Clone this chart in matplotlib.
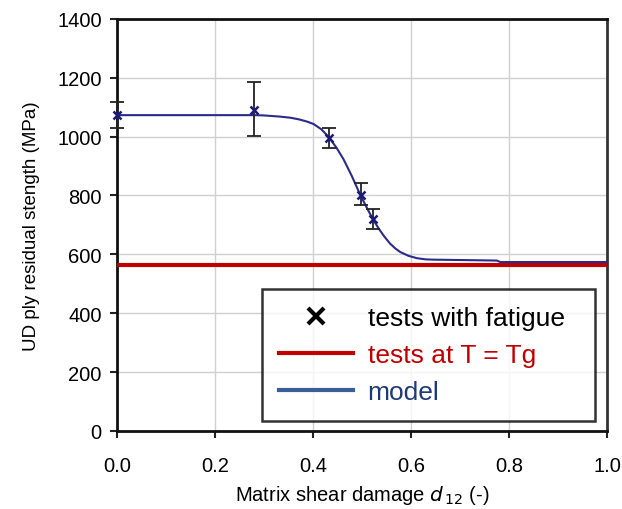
import matplotlib
matplotlib.use("Agg")
import matplotlib.pyplot as plt
from matplotlib.lines import Line2D

# test points (fatigue)
d_test = [0.0, 0.28, 0.433, 0.498, 0.522]
s_test = [1075, 1090, 995, 802, 720]
err_lo = [45, 87, 33, 34, 34]
err_hi = [42, 96, 35, 41, 34]

# tests at T = Tg
s_tg = 565

# model curve
d_model = [0.0, 0.28, 0.30, 0.333, 0.355, 0.373, 0.388, 0.401, 0.417, 0.433, 0.448,
           0.462, 0.479, 0.497, 0.510, 0.522, 0.534, 0.544, 0.557, 0.568, 0.578,
           0.595, 0.612, 0.630, 0.646, 0.775, 0.782, 1.0]
s_model = [1073, 1073, 1072, 1068, 1064, 1058, 1051, 1043, 1025, 997, 962,
           924, 867, 800, 758, 720, 688, 664, 637, 620, 608,
           595, 587, 583, 582, 579, 574, 574]

plt.rcParams['font.family'] = ['Liberation Sans', 'DejaVu Sans']

fig = plt.figure(figsize=(6.22, 5.10), dpi=100)
ax = fig.add_axes([0.188, 0.153, 0.788, 0.808])

ax.grid(True, color='#d0d0d0', linewidth=1)
ax.set_axisbelow(True)

ax.axhline(s_tg, color='#c00000', linewidth=3, zorder=3)
ax.plot(d_model, s_model, color='#2b2b8c', linewidth=1.5, zorder=4)
eb = ax.errorbar(d_test, s_test, yerr=[err_lo, err_hi], fmt='none', ecolor='#222222',
                 elinewidth=1.3, capsize=5, capthick=1.3, zorder=5)
for art in eb.lines[1] + eb.lines[2]:
    art.set_clip_on(False)
ax.plot(d_test, s_test, 'x', color='#1a1a7a', markersize=6, mew=1.8, zorder=6,
        clip_on=False)

ax.set_xlim(0, 1.0)
ax.set_ylim(0, 1400)
ax.set_xticks([0.0, 0.2, 0.4, 0.6, 0.8, 1.0])
ax.set_xticklabels(['0.0', '0.2', '0.4', '0.6', '0.8', '1.0'])
ax.set_yticks(range(0, 1401, 200))
ax.tick_params(axis='both', labelsize=14.5, length=5, width=1.5, color='#222222')
ax.tick_params(axis='x', pad=13)
ax.tick_params(axis='y', pad=6)
for side in ['left', 'bottom', 'top']:
    ax.spines[side].set_linewidth(2)
    ax.spines[side].set_color('#111111')
ax.spines['right'].set_linewidth(2)
ax.spines['right'].set_color('#333333')

ax.set_ylabel('UD ply residual stength (MPa)', fontsize=13.5, labelpad=12)
ax.set_xlabel('Matrix shear damage $d_{\\,12}$ (-)', fontsize=14.5, labelpad=6)

handles = [
    Line2D([], [], linestyle='none', marker='x', color='black', markersize=12, mew=3),
    Line2D([], [], color='#c00000', linewidth=3),
    Line2D([], [], color='#3a5e96', linewidth=3),
]
labels = ['tests with fatigue', 'tests at T = Tg', 'model']
leg = ax.legend(handles, labels, loc='upper left',
                bbox_to_anchor=(0.296, 0.345, 0.68, 0.0), mode='expand',
                borderaxespad=0, fontsize=19, frameon=True, fancybox=False,
                edgecolor='black', handlelength=2.8, handletextpad=0.55,
                labelspacing=0.5, borderpad=0.65,
                labelcolor=['black', '#c00000', '#1f3a7a'])
leg.get_frame().set_linewidth(1.8)
leg.set_zorder(10)

fig.savefig('out.png', dpi=100)
